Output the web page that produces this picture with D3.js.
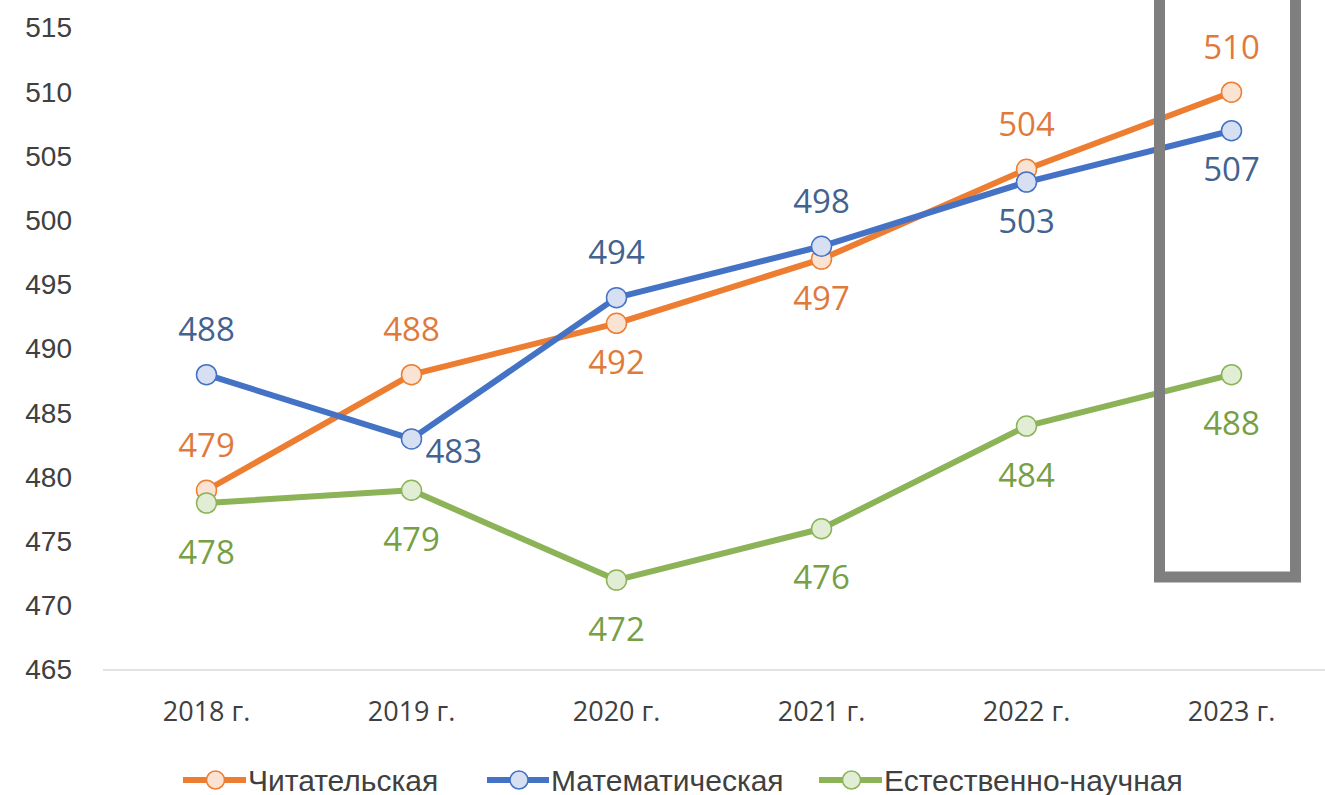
<!DOCTYPE html>
<html>
<head>
<meta charset="utf-8">
<script src="https://cdn.jsdelivr.net/npm/d3@7"></script>
<style>
  body { margin: 0; background: #fff; }
  svg { display: block; }
</style>
</head>
<body>
<svg id="chart" width="1325" height="795"></svg>
<script>
// Data
const years = ["2018 г.", "2019 г.", "2020 г.", "2021 г.", "2022 г.", "2023 г."];
const reading = [479, 488, 492, 497, 504, 510];
const math = [488, 483, 494, 498, 503, 507];
const science = [478, 479, 472, 476, 484, 488];
const yTicks = [465, 470, 475, 480, 485, 490, 495, 500, 505, 510, 515];

// label placement per point: "above", "below", "right"
const readingPos = ["above", "above", "below", "below", "above", "above"];
const mathPos = ["above", "right", "above", "above", "below", "below"];
const sciencePos = ["below", "below", "below", "below", "below", "below"];

const series = [
    {name: "Читательская", values: reading, pos: readingPos, color: "#ED7D31", fill: "#FBE3D3", label: "#DF7A3C", below: 38},
    {name: "Математическая", values: math, pos: mathPos, color: "#4472C4", fill: "#D7E0F2", label: "#42628F", below: 38},
    {name: "Естественно-научная", values: science, pos: sciencePos, color: "#8CB357", fill: "#E1EDD5", label: "#76A043", below: 48}
];

const svg = d3.select("#chart");
const width = 1325;

const xScale = d3.scaleBand()
    .domain(years)
    .range([104, 1334]);

const yScale = d3.scaleLinear()
    .domain([465, 515])
    .range([670, 28]);

const cx = d => xScale(d) + xScale.bandwidth() / 2;

// Baseline gridline
svg.append("line")
    .attr("x1", 103)
    .attr("x2", width)
    .attr("y1", yScale(465))
    .attr("y2", yScale(465))
    .attr("stroke", "#d9d9d9")
    .attr("stroke-width", 1.5);

// Y axis labels
const yAxis = d3.axisLeft(yScale)
    .tickValues(yTicks)
    .tickSize(0)
    .tickPadding(0);

svg.append("g")
    .attr("class", "y-axis")
    .attr("transform", "translate(72, 0)")
    .call(yAxis)
    .call(g => g.select(".domain").remove())
    .call(g => g.selectAll("text")
        .attr("font-family", "Liberation Sans, Arial, sans-serif")
        .attr("font-size", "28px")
        .attr("fill", "#404040"));

// X axis labels
const xAxis = d3.axisBottom(xScale)
    .tickSize(0)
    .tickPadding(0);

svg.append("g")
    .attr("class", "x-axis")
    .attr("transform", "translate(0, 702)")
    .call(xAxis)
    .call(g => g.select(".domain").remove())
    .call(g => g.selectAll("text")
        .attr("font-family", "Open Sans, sans-serif")
        .attr("font-size", "27px")
        .attr("fill", "#404040"));

// Lines
const line = d3.line()
    .x((d, i) => cx(years[i]))
    .y(d => yScale(d));

series.forEach(s => {
    svg.append("path")
        .datum(s.values)
        .attr("fill", "none")
        .attr("stroke", s.color)
        .attr("stroke-width", 6)
        .attr("stroke-linejoin", "round")
        .attr("d", line);
});

// Highlight box around 2023
svg.append("rect")
    .attr("x", xScale("2023 г.") + xScale.bandwidth() / 2 - 72)
    .attr("y", -20)
    .attr("width", 136)
    .attr("height", 597)
    .attr("fill", "none")
    .attr("stroke", "#7f7f7f")
    .attr("stroke-width", 11);

// Markers and data labels
series.forEach(s => {
    svg.selectAll(null)
        .data(s.values)
        .enter()
        .append("circle")
        .attr("cx", (d, i) => cx(years[i]))
        .attr("cy", d => yScale(d))
        .attr("r", 10)
        .attr("fill", s.fill)
        .attr("stroke", s.color)
        .attr("stroke-width", 1.5);

    svg.selectAll(null)
        .data(s.values)
        .enter()
        .append("text")
        .attr("x", (d, i) => s.pos[i] === "right" ? cx(years[i]) + 14 : cx(years[i]))
        .attr("y", (d, i) => {
            const y = yScale(d);
            if (s.pos[i] === "above") return y - 46;
            if (s.pos[i] === "below") return y + s.below;
            return y + 12;
        })
        .attr("text-anchor", (d, i) => s.pos[i] === "right" ? "start" : "middle")
        .attr("dominant-baseline", "central")
        .attr("font-family", "Open Sans, sans-serif")
        .attr("font-size", "33px")
        .attr("fill", s.label)
        .text(d => d);
});

// Legend
const legendItems = [
    {x: 183, textX: 248},
    {x: 487, textX: 551},
    {x: 819, textX: 884}
];

series.forEach((s, i) => {
    const g = svg.append("g")
        .attr("transform", `translate(0, 780)`);
    g.append("line")
        .attr("x1", legendItems[i].x)
        .attr("x2", legendItems[i].textX - 2)
        .attr("y1", 0)
        .attr("y2", 0)
        .attr("stroke", s.color)
        .attr("stroke-width", 6);
    g.append("circle")
        .attr("cx", (legendItems[i].x + legendItems[i].textX) / 2)
        .attr("cy", 0)
        .attr("r", 9)
        .attr("fill", s.fill)
        .attr("stroke", s.color)
        .attr("stroke-width", 1.5);
    g.append("text")
        .attr("x", legendItems[i].textX)
        .attr("y", 0)
        .attr("dominant-baseline", "central")
        .attr("font-family", "Liberation Sans, Arial, sans-serif")
        .attr("font-size", "30px")
        .attr("fill", "#404040")
        .text(s.name);
});
</script>
</body>
</html>
